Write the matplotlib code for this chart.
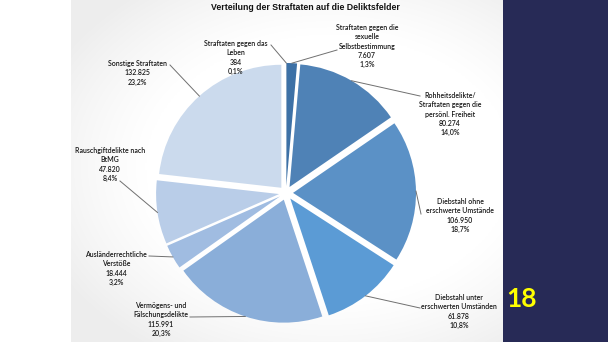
import numpy as np
import matplotlib
matplotlib.use("Agg")
import matplotlib.pyplot as plt
from matplotlib.patches import Rectangle

# Data: offences per category (clockwise from 12 o'clock)
categories = [
    "Straftaten gegen das\nLeben",
    "Straftaten gegen die\nsexuelle\nSelbstbestimmung",
    "Rohheitsdelikte/\nStraftaten gegen die\npersönl. Freiheit",
    "Diebstahl ohne\nerschwerte Umstände",
    "Diebstahl unter\nerschwerten Umständen",
    "Vermögens- und\nFälschungsdelikte",
    "Ausländerrechtliche\nVerstöße",
    "Rauschgiftdelikte nach\nBtMG",
    "Sonstige Straftaten",
]
counts = [384, 7607, 80274, 106950, 61878, 115991, 18444, 47820, 132825]
title = "Verteilung der Straftaten auf die Deliktsfelder"
slide_number = "18"

colors = ["#2e5d8c", "#3d71a6", "#4f82b6", "#5b91c6", "#5b9bd5",
          "#8aaed9", "#a0bce1", "#b9cde8", "#cbdaed"]

# Label layout in pixel units (x centre, top of text block) and leader start
label_pos = [(236, 40), (367, 24), (450, 92), (460, 198), (459, 294),
             (161, 302), (116, 251), (110, 147), (137, 60)]
leader_start = [(271, 45), (337, 50), (420, 96), (421, 214), (420, 308),
                (190, 317), (149, 256), (120, 181), (170, 65)]

W, H = 608, 342
fig = plt.figure(figsize=(W / 100, H / 100), dpi=100)
fig.patch.set_facecolor("white")
ax = fig.add_axes([0, 0, 1, 1])


def Y(y):
    return H - y


# faint grey vignette behind the chart panel, strongest at the left corners
xs = np.linspace(71, 503, 300)
ys = np.linspace(0, H, 240)
XX, YY = np.meshgrid(xs, ys)
g = ((XX - 330) / 250) ** 2 + ((YY - 175) / 180) ** 2
shade = 1 - 0.07 * np.clip(g - 0.55, 0, 1)
img = np.dstack([shade, shade, shade])
ax.imshow(img, extent=[71, 503, 0, H], origin="lower", zorder=0,
          interpolation="bilinear")

# slide side band with page number
ax.add_patch(Rectangle((503, 0), W - 503, H, facecolor="#272a56",
                       edgecolor="none", zorder=1))
ax.text(522, Y(299), slide_number, color="#ffff00", fontsize=19,
        fontweight="bold", family="Lato", ha="center", va="center", zorder=5)

cx, cy, R, EXP = 286, Y(193), 123, 7
wedges, _ = ax.pie(counts, colors=colors, startangle=90, counterclock=False,
                   explode=[EXP] * len(counts), radius=R, center=(cx, cy),
                   wedgeprops=dict(linewidth=0, zorder=2))

ax.set_xlim(0, W)
ax.set_ylim(0, H)
ax.set_aspect("equal")
ax.axis("off")

total = sum(counts)
for w, name, n, (lx, ly), (sx, sy) in zip(wedges, categories, counts,
                                          label_pos, leader_start):
    pct = f"{100 * n / total:.1f}".replace(".", ",") + "%"
    num = f"{n:,}".replace(",", ".")
    ax.text(lx, Y(ly), f"{name}\n{num}\n{pct}", ha="center", va="top",
            multialignment="center", fontsize=5, family="Lato",
            fontweight="semibold", color="#1a1a1a", linespacing=1.38,
            zorder=5)
    mid = np.deg2rad((w.theta1 + w.theta2) / 2)
    ax_, ay_ = w.center[0] + w.r * np.cos(mid), w.center[1] + w.r * np.sin(mid)
    ax.plot([sx, ax_], [Y(sy), ay_], color="#707070", lw=0.7, zorder=4)

ax.text(305, Y(7.5), title, ha="center", va="center", fontsize=6.3,
        fontweight="bold", family="Liberation Sans", color="#111111", zorder=5)

fig.savefig("out.png", dpi=100)
